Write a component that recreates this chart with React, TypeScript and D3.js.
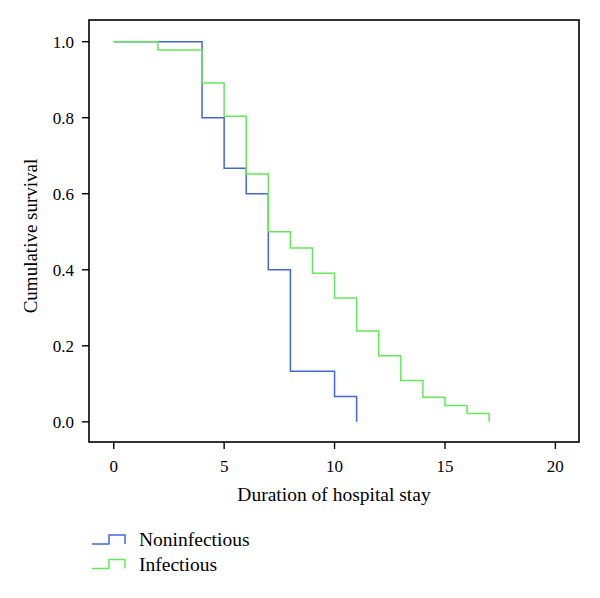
import React from "react";
import * as d3 from "d3";

const nonTimes = [0, 4, 5, 6, 7, 8, 10, 11];
const nonSurv = [1.0, 0.8, 0.667, 0.6, 0.4, 0.133, 0.067, 0.0];
const infTimes = [0, 2, 4, 5, 6, 7, 8, 9, 10, 11, 12, 13, 14, 15, 16, 17];
const infSurv = [1.0, 0.978, 0.891, 0.804, 0.652, 0.5, 0.457, 0.391, 0.326, 0.239, 0.174, 0.109, 0.065, 0.043, 0.022, 0.0];
const xTicks = [0, 5, 10, 15, 20];
const yTicks = [0.0, 0.2, 0.4, 0.6, 0.8, 1.0];
const seriesNames = ["Noninfectious", "Infectious"];
const seriesColors = ["#4466dd", "#66e85a"];

const L = 89, R = 579, T = 20, B = 442;

export default function App() {
  const x = d3.scaleLinear().domain([-1.12, 21.07]).range([L, R]);
  const y = d3.scaleLinear().domain([-0.053, 1.057]).range([B, T]);
  const step = d3.line<[number, number]>().x(d => x(d[0])).y(d => y(d[1])).curve(d3.curveStepAfter);
  const mk = (t: number[], s: number[]): [number, number][] => t.map((v, i) => [v, s[i]] as [number, number]);
  const series = [mk(nonTimes, nonSurv), mk(infTimes, infSurv)];
  const font = "'Liberation Serif', 'DejaVu Serif', serif";
  return (
    <svg width={600} height={598} style={{ position: "absolute", left: 0, top: 0, background: "#fff" }} fontFamily={font}>
      <rect x={L} y={T} width={R - L} height={B - T} fill="none" stroke="#000" strokeWidth={1.6} />
      {yTicks.map(v => (
        <g key={"y" + v}>
          <line x1={L - 7} x2={L} y1={y(v)} y2={y(v)} stroke="#000" strokeWidth={1.4} />
          <text x={L - 15} y={y(v)} dy="0.35em" textAnchor="end" fontSize={17}>{v.toFixed(1)}</text>
        </g>
      ))}
      {xTicks.map(v => (
        <g key={"x" + v}>
          <line x1={x(v)} x2={x(v)} y1={B} y2={B + 7} stroke="#000" strokeWidth={1.4} />
          <text x={x(v)} y={472} textAnchor="middle" fontSize={17}>{v}</text>
        </g>
      ))}
      <text x={334} y={501} textAnchor="middle" fontSize={19.5}>Duration of hospital stay</text>
      <text transform={`translate(37, ${(T + B) / 2 + 5}) rotate(-90)`} textAnchor="middle" fontSize={19}>Cumulative survival</text>
      {series.map((d, i) => (
        <path key={i} d={step(d) || ""} fill="none" stroke={seriesColors[i]} strokeWidth={1.5} />
      ))}
      {seriesNames.map((n, i) => {
        const yb = 544 + i * 24.5;
        return (
          <g key={n}>
            <path d={`M92,${yb} H109 V${yb - 9} H125 V${yb}`} fill="none" stroke={seriesColors[i]} strokeWidth={1.5} />
            <text x={139} y={yb + 2} fontSize={19.5}>{n}</text>
          </g>
        );
      })}
    </svg>
  );
}
